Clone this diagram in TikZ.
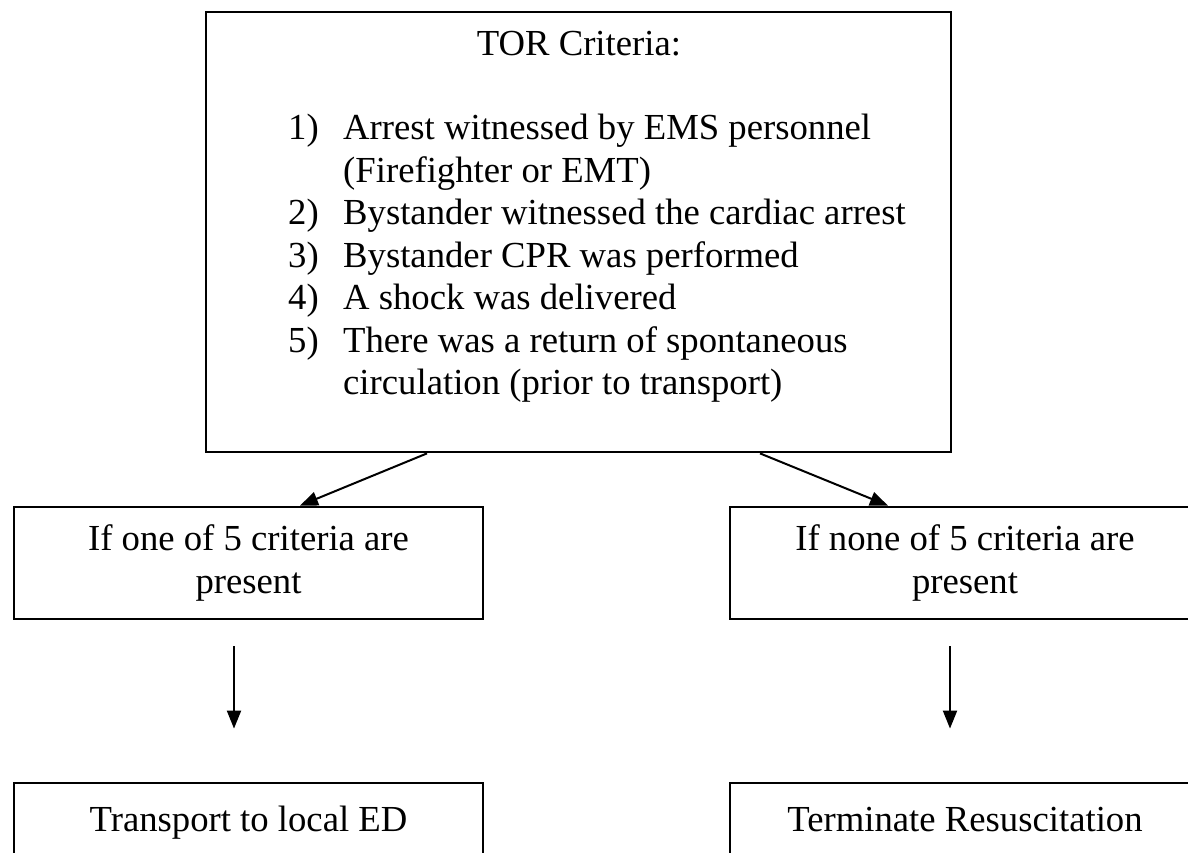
\documentclass[tikz,border=0pt]{standalone}
\usepackage{fontspec}
\setmainfont{Liberation Serif}
\usepackage{tikz}
\usetikzlibrary{arrows.meta}

\begin{document}
\begin{tikzpicture}[x=1pt,y=1pt,
		box/.style={draw,line width=2.8pt,inner sep=0pt,align=center},
		endbox/.style={box,minimum height=80pt,text height=25pt,text depth=8pt},
		txt/.style={inner sep=0pt},
		arr/.style={line width=2pt,-{Triangle[length=18pt,width=14pt]}},
		font=\fontsize{36.7}{42.5}\selectfont]
			\useasboundingbox (0,0) rectangle (1188,852);
			\clip (0,0) rectangle (1188,852);
			\node[box,minimum width=745pt,minimum height=440pt] (tor) at (578.5,620) {};
			\node[txt,anchor=base] (torhead) at (579,796) {TOR Criteria:};
			\node[txt,anchor=base west] (torlist) at (288,712) {\begin{tabular}[t]{@{}p{55pt}@{}l@{}}
				1) & Arrest witnessed by EMS personnel\\
				 & (Firefighter or EMT)\\
				2) & Bystander witnessed the cardiac arrest\\
				3) & Bystander CPR was performed\\
				4) & A shock was delivered\\
				5) & There was a return of spontaneous\\
				 & circulation (prior to transport)
			\end{tabular}};
			\node[box,minimum width=469pt,minimum height=112pt] (ifone) at (248.5,289) {If one of 5 criteria are\\present};
			\node[box,minimum width=470pt,minimum height=112pt] (ifnone) at (965,289) {If none of 5 criteria are\\present};
			\node[endbox,minimum width=469pt] (transport) at (248.5,29) {Transport to local ED};
			\node[endbox,minimum width=470pt] (terminate) at (965,29) {Terminate Resuscitation};
			\draw[arr] ([xshift=-151.5pt]tor.south) -- ([xshift=51.5pt]ifone.north);
			\draw[arr] ([xshift=181.5pt]tor.south) -- ([xshift=-77pt]ifnone.north);
			\draw[arr,shorten <=26pt,shorten >=53pt] ([xshift=-14.5pt]ifone.south) -- ([xshift=-14.5pt]transport.north);
			\draw[arr,shorten <=26pt,shorten >=53pt] ([xshift=-15pt]ifnone.south) -- ([xshift=-15pt]terminate.north);
\end{tikzpicture}
\end{document}
